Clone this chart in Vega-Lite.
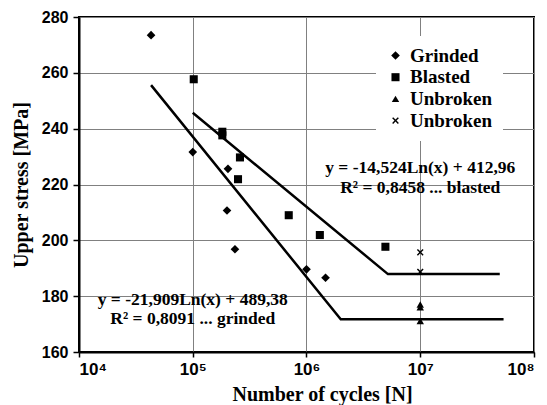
{
  "$schema": "https://vega.github.io/schema/vega-lite/v6.json",
  "width": 455,
  "height": 335,
  "autosize": {"type": "none"},
  "padding": {"left": 79, "top": 17, "right": 13, "bottom": 53},
  "background": "white",
  "config": {
    "view": {"stroke": "black", "strokeWidth": 2},
    "axis": {
      "domainColor": "black", "domainWidth": 2,
      "tickColor": "black", "tickWidth": 1.5,
      "gridColor": "#808080", "gridWidth": 1, "gridOpacity": 1,
      "labelFont": "Liberation Sans", "labelFontWeight": "bold", "labelFontSize": 16, "labelColor": "black",
      "titleFont": "Liberation Serif", "titleFontWeight": "bold", "titleFontSize": 20, "titleColor": "black"
    }
  },
  "encoding": {
    "x": {
      "field": "cycles", "type": "quantitative",
      "scale": {"type": "log", "domain": [10000, 100000000]},
      "axis": {
        "values": [10000, 100000, 1000000, 10000000, 100000000],
        "labelExpr": "'10' + ['⁰','¹','²','³','⁴','⁵','⁶','⁷','⁸'][round(log(datum.value)/LN10)]",
        "labelFontSize": 17,
        "title": "Number of cycles [N]",
        "tickSize": 5, "labelPadding": 4, "grid": true,
        "titleX": 243, "titleY": 48, "titleAlign": "center", "titleBaseline": "alphabetic"
      }
    },
    "y": {
      "field": "stress", "type": "quantitative",
      "scale": {"domain": [160, 280], "zero": false},
      "axis": {
        "values": [160, 180, 200, 220, 240, 260, 280],
        "title": "Upper stress [MPa]",
        "tickSize": 6, "labelPadding": 5, "grid": true,
        "titleX": -58, "titleY": 167.5, "titleAngle": -90, "titleAlign": "center", "titleBaseline": "middle"
      }
    }
  },
  "layer": [
    {
      "data": {"values": [
        {"series": "Grinded", "cycles": 43000, "stress": 273.5},
        {"series": "Grinded", "cycles": 100000, "stress": 231.6},
        {"series": "Grinded", "cycles": 204000, "stress": 225.6},
        {"series": "Grinded", "cycles": 200000, "stress": 210.7},
        {"series": "Grinded", "cycles": 235000, "stress": 196.8},
        {"series": "Grinded", "cycles": 1000000, "stress": 189.6},
        {"series": "Grinded", "cycles": 1470000, "stress": 186.6},
        {"series": "Blasted", "cycles": 102000, "stress": 257.7},
        {"series": "Blasted", "cycles": 182000, "stress": 238.9},
        {"series": "Blasted", "cycles": 182000, "stress": 237.6},
        {"series": "Blasted", "cycles": 260000, "stress": 229.7},
        {"series": "Blasted", "cycles": 250000, "stress": 221.9},
        {"series": "Blasted", "cycles": 698000, "stress": 209.0},
        {"series": "Blasted", "cycles": 1310000, "stress": 201.9},
        {"series": "Blasted", "cycles": 4940000, "stress": 197.7},
        {"series": "Unbroken", "cycles": 10000000, "stress": 177.0},
        {"series": "Unbroken", "cycles": 10000000, "stress": 176.0},
        {"series": "Unbroken", "cycles": 10000000, "stress": 171.1},
        {"series": "Unbroken-x", "cycles": 10000000, "stress": 195.7},
        {"series": "Unbroken-x", "cycles": 10000000, "stress": 188.7}
      ]},
      "mark": {"type": "point", "filled": true, "opacity": 1, "color": "black", "strokeWidth": 0},
      "encoding": {
        "shape": {
          "field": "series", "type": "nominal",
          "scale": {
            "domain": ["Grinded", "Blasted", "Unbroken", "Unbroken-x"],
            "range": ["diamond", "square", "triangle-up", "M-1,-0.7L-0.7,-1L0,-0.3L0.7,-1L1,-0.7L0.3,0L1,0.7L0.7,1L0,0.3L-0.7,1L-1,0.7L-0.3,0Z"]
          },
          "legend": {
            "orient": "none", "legendX": 297, "legendY": 19,
            "title": null, "fillColor": "white", "padding": 10,
            "labelFont": "Liberation Serif", "labelFontWeight": "bold", "labelFontSize": 19, "labelColor": "black",
            "symbolFillColor": "black", "symbolStrokeColor": "black", "symbolStrokeWidth": 0,
            "rowPadding": 1.7, "labelOffset": 5,
            "labelExpr": "datum.label == 'Unbroken-x' ? 'Unbroken' : datum.label"
          }
        },
        "size": {
          "field": "series", "type": "nominal",
          "scale": {"domain": ["Grinded", "Blasted", "Unbroken", "Unbroken-x"], "range": [75, 45, 45, 40]}
        }
      }
    },
    {
      "data": {"values": [
        {"fit": "grinded", "cycles": 43000, "stress": 255.6},
        {"fit": "grinded", "cycles": 2000000, "stress": 171.7},
        {"fit": "grinded", "cycles": 54000000, "stress": 171.7},
        {"fit": "blasted", "cycles": 100000, "stress": 245.7},
        {"fit": "blasted", "cycles": 5200000, "stress": 187.9},
        {"fit": "blasted", "cycles": 50000000, "stress": 187.9}
      ]},
      "mark": {"type": "line", "color": "black", "strokeWidth": 2.5},
      "encoding": {
        "detail": {"field": "fit", "type": "nominal"},
        "order": {"field": "cycles", "type": "quantitative"}
      }
    },
    {
      "data": {"values": [
        {"cycles": 100000, "stress": 178.8, "label": "y = -21,909Ln(x) + 489,38"},
        {"cycles": 100000, "stress": 171.8, "label": "R² = 0,8091 ... grinded"},
        {"cycles": 10000000, "stress": 226.0, "label": "y = -14,524Ln(x) + 412,96"},
        {"cycles": 10000000, "stress": 218.6, "label": "R² = 0,8458 ... blasted"}
      ]},
      "mark": {"type": "text", "font": "Liberation Serif", "fontWeight": "bold", "fontSize": 17.5, "color": "black", "align": "center", "baseline": "middle"},
      "encoding": {
        "text": {"field": "label", "type": "nominal"}
      }
    }
  ]
}
